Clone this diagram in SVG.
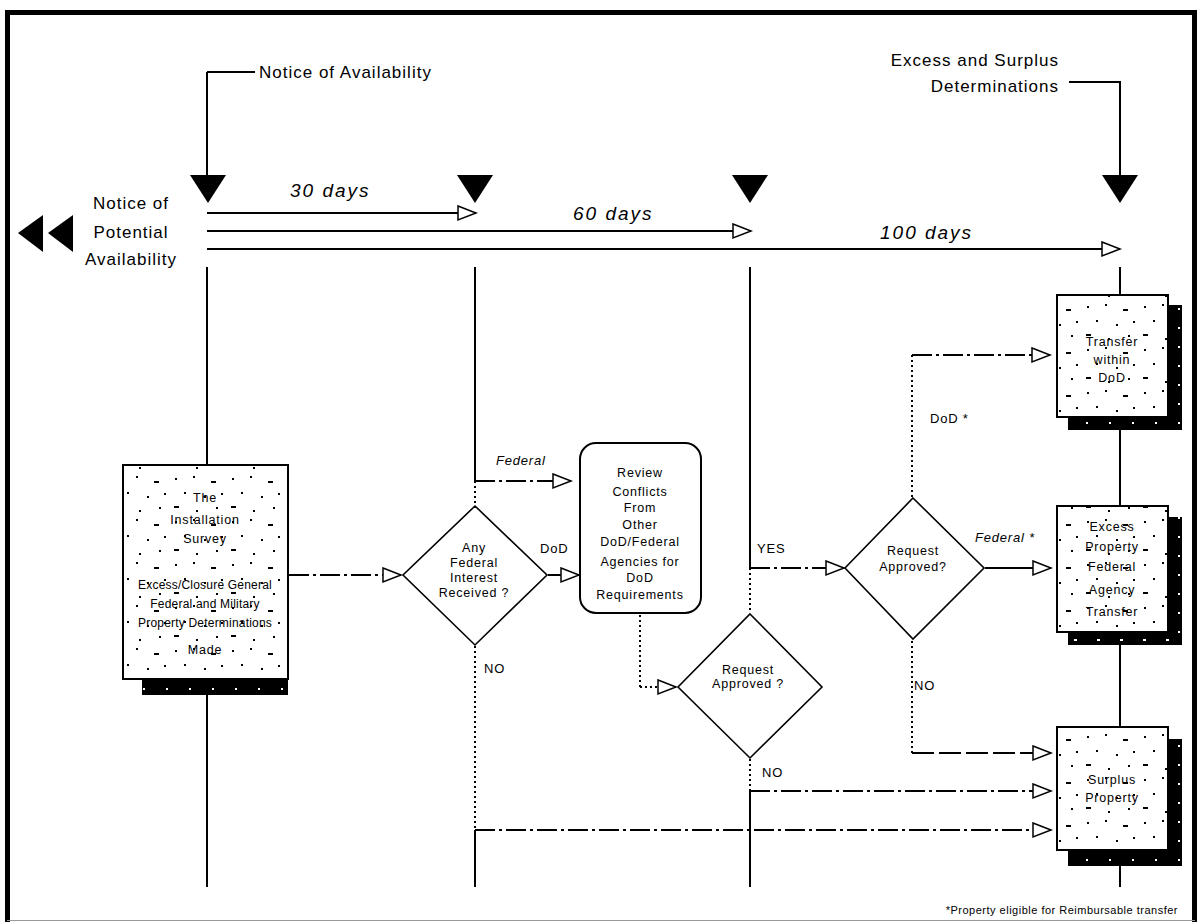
<svg xmlns="http://www.w3.org/2000/svg" width="1203" height="922" viewBox="0 0 1203 922">
  <style>
    .lbl { font-family: "Liberation Sans", Arial, sans-serif; font-size: 17px; letter-spacing: 1px; fill: #000; }
    .days { font-family: "Liberation Sans", Arial, sans-serif; font-size: 19px; font-style: italic; letter-spacing: 2px; fill: #000; }
    .box { font-family: "Liberation Sans", Arial, sans-serif; font-size: 12.5px; letter-spacing: 0.8px; fill: #000; text-anchor: middle; }
    .wide { letter-spacing: 0.2px; font-size: 12px; }
    .tag { font-family: "Liberation Sans", Arial, sans-serif; font-size: 13px; letter-spacing: 0.8px; fill: #000; }
    .note { font-family: "Liberation Sans", Arial, sans-serif; font-size: 11px; letter-spacing: 0.5px; fill: #000; text-anchor: end; }
    .solid { stroke: #000; stroke-width: 2; fill: none; }
    .dot { stroke: #000; stroke-width: 2; fill: none; stroke-dasharray: 2 3; }
    .dashdot { stroke: #000; stroke-width: 2; fill: none; stroke-dasharray: 20 4 3 4; }
    .dash { stroke: #000; stroke-width: 2; fill: none; stroke-dasharray: 22 5; }
    .shape { stroke: #000; stroke-width: 2; fill: url(#stipple); }
    .diamond { stroke: #000; stroke-width: 1.6; fill: #fff; }
    .shadow { fill: url(#shadowDots); }
    .mark { fill: #000; }
  </style>
  <defs>
    <!-- sparse speckled fill for process boxes -->
    <pattern id="stipple" width="57" height="43" patternUnits="userSpaceOnUse">
      <rect width="57" height="43" fill="#fff"/>
      <rect x="4" y="5" width="2" height="2" fill="#000"/>
      <rect x="22" y="3" width="2" height="2" fill="#000"/>
      <rect x="40" y="8" width="5" height="2" fill="#000"/>
      <rect x="13" y="19" width="2" height="2" fill="#000"/>
      <rect x="33" y="23" width="2" height="2" fill="#000"/>
      <rect x="50" y="20" width="2" height="2" fill="#000"/>
      <rect x="3" y="33" width="5" height="2" fill="#000"/>
      <rect x="25" y="37" width="2" height="2" fill="#000"/>
      <rect x="45" y="34" width="2" height="2" fill="#000"/>
    </pattern>
    <!-- drop shadow with light specks -->
    <pattern id="shadowDots" width="23" height="19" patternUnits="userSpaceOnUse">
      <rect width="23" height="19" fill="#000"/>
      <rect x="5" y="4" width="2" height="2" fill="#fff"/>
      <rect x="16" y="12" width="3" height="2" fill="#fff"/>
    </pattern>
    <marker id="open" markerUnits="userSpaceOnUse" markerWidth="22" markerHeight="18" refX="19" refY="8" orient="auto">
      <path d="M1,1 L19,8 L1,15 Z" fill="#fff" stroke="#000" stroke-width="1.5"/>
    </marker>
  </defs>

  <rect width="1203" height="922" fill="#fff"/>

  <!-- frame -->
  <path d="M7.5,922 L7.5,12.5 L1194.5,12.5 L1194.5,922" fill="none" stroke="#000" stroke-width="5"/>
  <line x1="7" y1="920.5" x2="1195" y2="920.5" stroke="#999" stroke-width="1"/>

  <!-- milestone markers -->
  <g id="milestones">
    <path class="mark" d="M190,175 L226,175 L208,203 Z"/>
    <path class="mark" d="M457,175 L493,175 L475,203 Z"/>
    <path class="mark" d="M732,175 L768,175 L750,203 Z"/>
    <path class="mark" d="M1102,175 L1138,175 L1120,203 Z"/>
    <path class="mark" d="M43,215 L43,252 L18,233 Z"/>
    <path class="mark" d="M73,215 L73,252 L48,233 Z"/>
  </g>

  <g id="notice-potential">
    <text class="lbl" text-anchor="middle" x="131" y="209">Notice of</text>
    <text class="lbl" text-anchor="middle" x="131" y="238">Potential</text>
    <text class="lbl" text-anchor="middle" x="131" y="265">Availability</text>
  </g>

  <g id="notice-availability">
    <text class="lbl" x="259" y="78">Notice of Availability</text>
  </g>

  <g id="determinations">
    <text class="lbl" text-anchor="end" x="1059" y="66">Excess and Surplus</text>
    <text class="lbl" text-anchor="end" x="1059" y="92">Determinations</text>
  </g>

  <g id="timeline-labels">
    <text class="days" x="290" y="197">30 days</text>
    <text class="days" x="573" y="220">60 days</text>
    <text class="days" x="880" y="239">100 days</text>
  </g>

  <!-- connectors -->
  <g id="connectors">
    <path class="solid" d="M207,72 L255,72"/>
    <path class="solid" d="M207,72 L207,178"/>
    <path class="solid" d="M1069,82 L1120,82 L1120,178"/>

    <path class="solid" d="M207,213 L476,213" marker-end="url(#open)"/>
    <path class="solid" d="M207,231 L751,231" marker-end="url(#open)"/>
    <path class="solid" d="M207,249 L1120,249" marker-end="url(#open)"/>

    <!-- lane lines -->
    <path class="solid" d="M207,267 L207,465"/>
    <path class="solid" d="M207,695 L207,887"/>
    <path class="solid" d="M475,267 L475,481"/>
    <path class="dot" d="M475,481 L475,506"/>
    <path class="dot" d="M475,646 L475,830"/>
    <path class="solid" d="M475,830 L475,887"/>
    <path class="solid" d="M750,267 L750,568"/>
    <path class="dot" d="M750,568 L750,613"/>
    <path class="dot" d="M750,759 L750,791"/>
    <path class="solid" d="M750,791 L750,887"/>
    <path class="solid" d="M1120,267 L1120,295"/>
    <path class="solid" d="M1120,430 L1120,506"/>
    <path class="solid" d="M1120,645 L1120,727"/>
    <path class="solid" d="M1120,866 L1120,887"/>

    <!-- flow -->
    <path class="dashdot" d="M289,575 L401,575" marker-end="url(#open)"/>
    <path class="dashdot" d="M475,481 L571,481" marker-end="url(#open)"/>
    <path class="solid" d="M548,575 L579,575" marker-end="url(#open)"/>
    <path class="dot" d="M640,615 L640,687"/>
    <path class="dot" d="M640,687 L676,687" marker-end="url(#open)"/>
    <path class="dashdot" d="M750,568 L844,568" marker-end="url(#open)"/>
    <path class="dot" d="M912,497 L912,355"/>
    <path class="dashdot" d="M912,355 L1050,355" marker-end="url(#open)"/>
    <path class="solid" d="M985,568 L1051,568" marker-end="url(#open)"/>
    <path class="dot" d="M912,641 L912,753"/>
    <path class="dash" d="M912,753 L1051,753" marker-end="url(#open)"/>
    <path class="dashdot" d="M750,791 L1051,791" marker-end="url(#open)"/>
    <path class="dashdot" d="M475,830 L1051,830" marker-end="url(#open)"/>
  </g>

  <g id="branch-labels">
    <text class="tag" x="496" y="465" font-style="italic">Federal</text>
    <text class="tag" x="540" y="553">DoD</text>
    <text class="tag" x="757" y="553">YES</text>
    <text class="tag" x="930" y="423">DoD *</text>
    <text class="tag" x="975" y="542" font-style="italic">Federal *</text>
    <text class="tag" x="484" y="673">NO</text>
    <text class="tag" x="762" y="777">NO</text>
    <text class="tag" x="914" y="690">NO</text>
  </g>

  <g id="installation-survey">
    <rect class="shadow" x="142" y="480" width="146" height="215"/>
    <rect class="shape" x="123" y="465" width="165" height="214"/>
    <text class="box" x="205" y="502">The</text>
    <text class="box" x="205" y="524">Installation</text>
    <text class="box" x="205" y="543">Survey</text>
    <text class="box wide" x="205" y="589">Excess/Closure General</text>
    <text class="box wide" x="205" y="608">Federal and Military</text>
    <text class="box wide" x="205" y="627">Property Determinations</text>
    <text class="box" x="205" y="654">Made</text>
  </g>

  <g id="decision-interest">
    <path class="diamond" d="M475,506 L547,575 L475,645 L403,575 Z"/>
    <text class="box" x="474" y="552">Any</text>
    <text class="box" x="474" y="567">Federal</text>
    <text class="box" x="474" y="582">Interest</text>
    <text class="box" x="474" y="597">Received ?</text>
  </g>

  <g id="review-requests">
    <rect x="580" y="443" width="121" height="170" rx="16" ry="16" fill="#fff" stroke="#000" stroke-width="2"/>
    <text class="box" x="640" y="477">Review</text>
    <text class="box" x="640" y="496">Conflicts</text>
    <text class="box" x="640" y="512">From</text>
    <text class="box" x="640" y="529">Other</text>
    <text class="box" x="640" y="546">DoD/Federal</text>
    <text class="box" x="640" y="566">Agencies for</text>
    <text class="box" x="640" y="582">DoD</text>
    <text class="box" x="640" y="599">Requirements</text>
  </g>

  <g id="decision-approved-a">
    <path class="diamond" d="M750,614 L822,687 L750,758 L678,687 Z"/>
    <text class="box" x="748" y="674">Request</text>
    <text class="box" x="748" y="688">Approved ?</text>
  </g>

  <g id="decision-approved-b">
    <path class="diamond" d="M913,498 L984,568 L913,639 L845,568 Z"/>
    <text class="box" x="913" y="555">Request</text>
    <text class="box" x="913" y="571">Approved?</text>
  </g>

  <g id="transfer-dod">
    <rect class="shadow" x="1068" y="305" width="114" height="125"/>
    <rect class="shape" x="1057" y="295" width="111" height="122"/>
    <text class="box" x="1112" y="346">Transfer</text>
    <text class="box" x="1112" y="364">within</text>
    <text class="box" x="1112" y="382">DoD</text>
  </g>

  <g id="federal-transfer">
    <rect class="shadow" x="1068" y="517" width="114" height="128"/>
    <rect class="shape" x="1057" y="506" width="111" height="126"/>
    <text class="box" x="1112" y="531">Excess</text>
    <text class="box" x="1112" y="551">Property</text>
    <text class="box" x="1112" y="571">Federal</text>
    <text class="box" x="1112" y="594">Agency</text>
    <text class="box" x="1112" y="616">Transfer</text>
  </g>

  <g id="surplus-property">
    <rect class="shadow" x="1068" y="739" width="114" height="127"/>
    <rect class="shape" x="1057" y="727" width="111" height="123"/>
    <text class="box" x="1112" y="784">Surplus</text>
    <text class="box" x="1112" y="802">Property</text>
  </g>

  <text class="note" x="1178" y="914">*Property eligible for Reimbursable transfer</text>
</svg>
